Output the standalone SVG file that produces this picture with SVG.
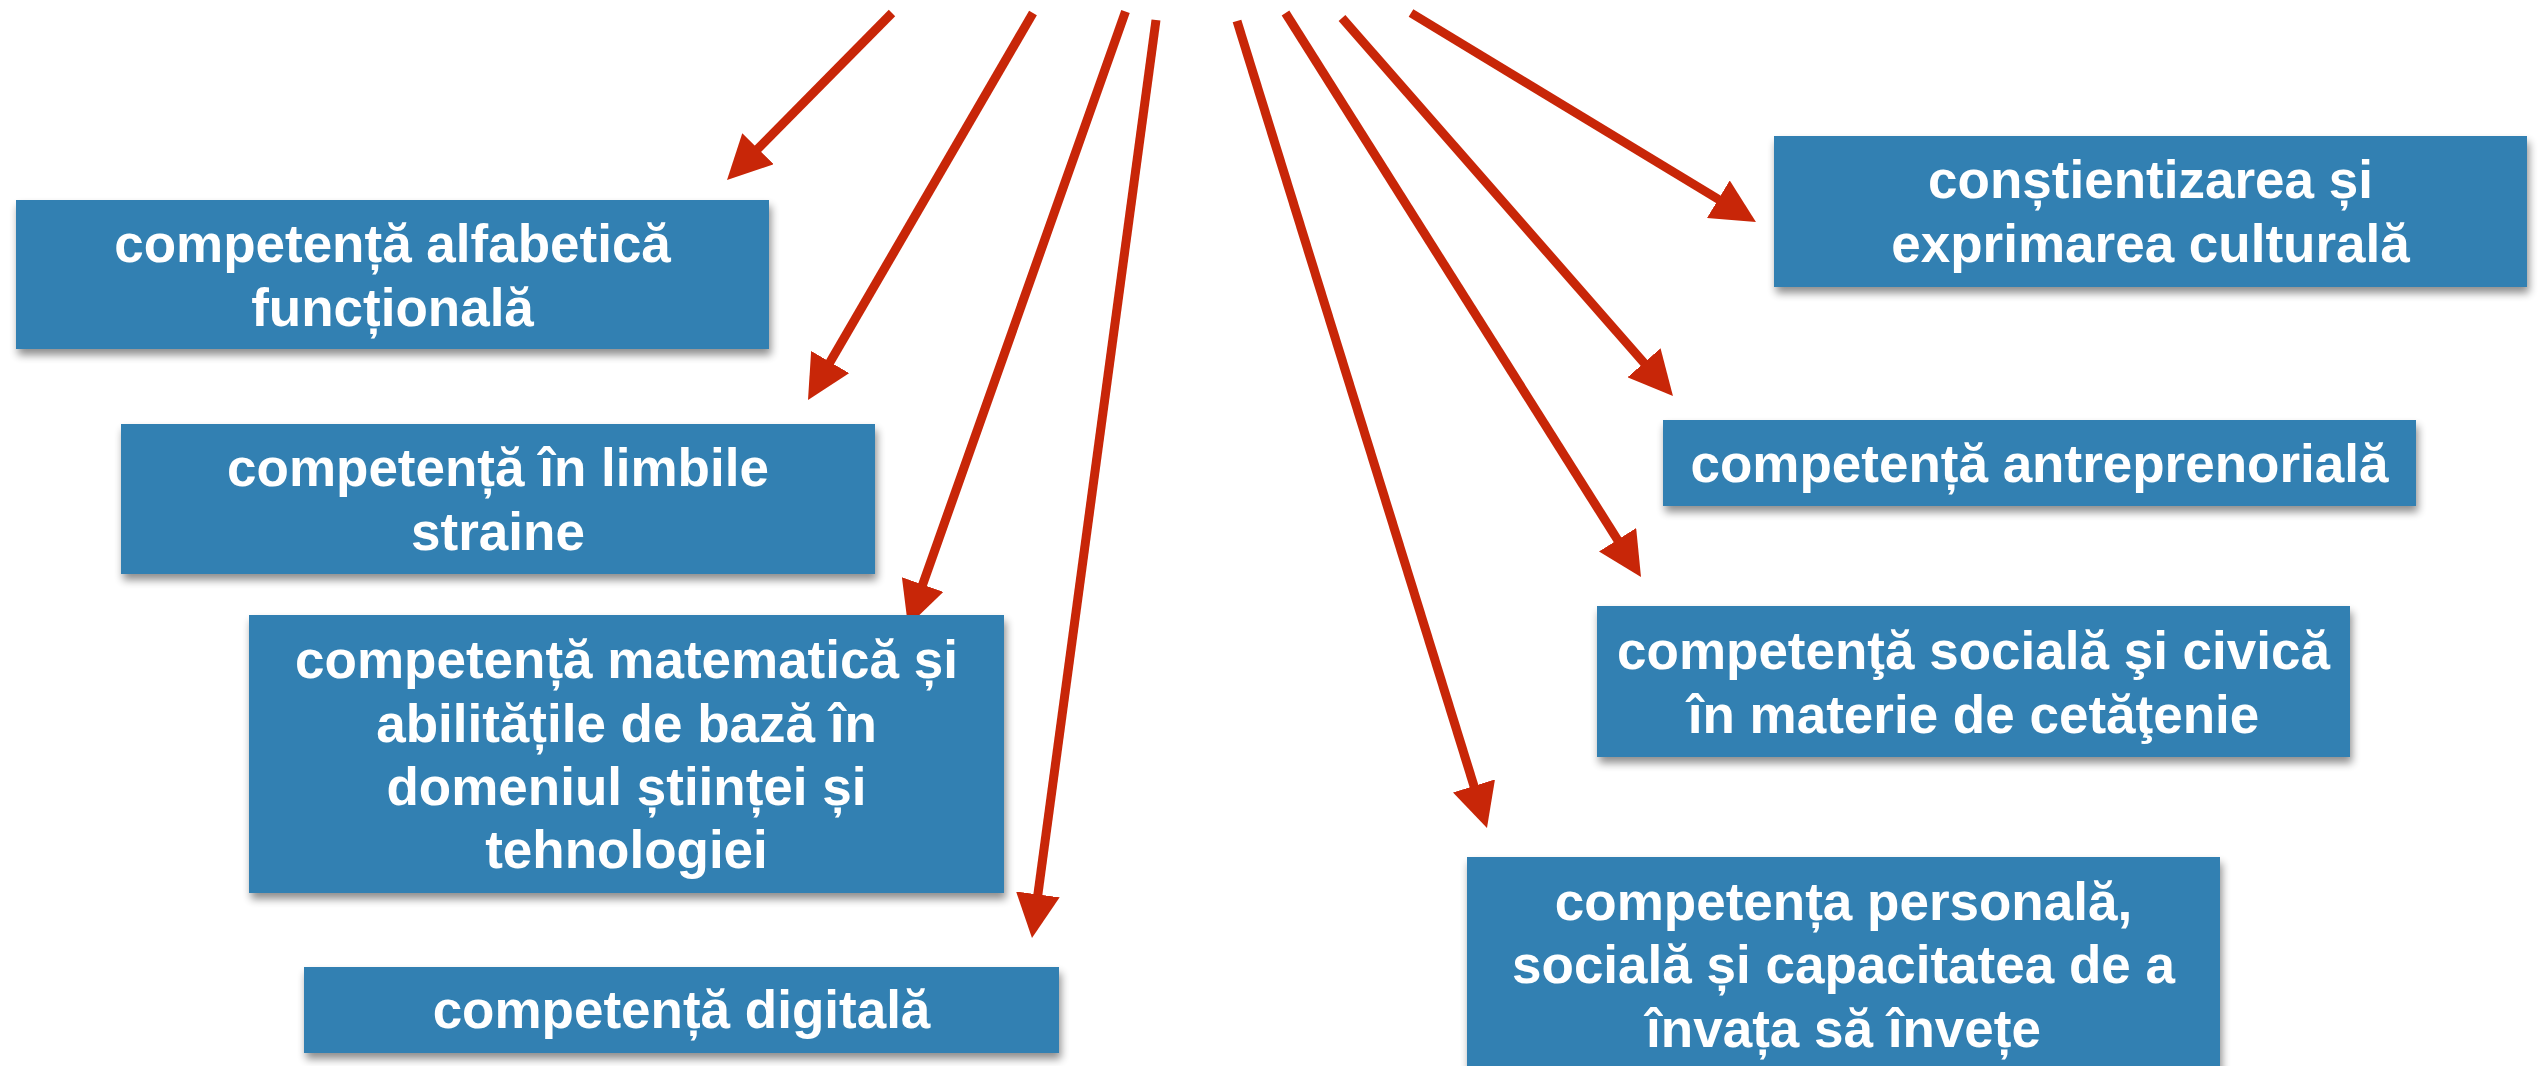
<svg xmlns="http://www.w3.org/2000/svg" width="2541" height="1066" viewBox="0 0 2541 1066">
  <defs>
    <filter id="shadow" x="-5%" y="-10%" width="110%" height="130%">
      <feGaussianBlur in="SourceAlpha" stdDeviation="4"/>
      <feOffset dx="2" dy="6" result="b"/>
      <feComponentTransfer><feFuncA type="linear" slope="0.45"/></feComponentTransfer>
      <feMerge><feMergeNode/><feMergeNode in="SourceGraphic"/></feMerge>
    </filter>
    <marker id="head" viewBox="0 0 44 44" refX="14" refY="22" markerWidth="44" markerHeight="44" markerUnits="userSpaceOnUse" orient="auto">
      <path d="M0,0 L44,22 L0,44 Z" fill="#c82608"/>
    </marker>
  </defs>
  <style>
    .box { fill: #3080b2; filter: url(#shadow); }
    .lbl { fill: #ffffff; font-family: "Liberation Sans", Arial, sans-serif; font-weight: bold; font-size: 53px; text-anchor: middle; }
    .arrow { stroke: #c82608; stroke-width: 9; fill: none; stroke-linecap: butt; marker-end: url(#head); }
  </style>
  <rect width="2541" height="1066" fill="#ffffff"/>

  <g id="connectors">
    <line class="arrow" x1="892" y1="13" x2="748.1" y2="158.7"/>
    <line class="arrow" x1="1033" y1="13" x2="823.1" y2="374.1"/>
    <line class="arrow" x1="1125.5" y1="11.5" x2="918" y2="597.7"/>
    <line class="arrow" x1="1156" y1="20" x2="1036" y2="908.3"/>
    <line class="arrow" x1="1237" y1="21" x2="1478.1" y2="799.3"/>
    <line class="arrow" x1="1285.5" y1="13" x2="1625" y2="551.6"/>
    <line class="arrow" x1="1342" y1="18" x2="1653.2" y2="373.4"/>
    <line class="arrow" x1="1411" y1="13" x2="1730.3" y2="206.5"/>
  </g>

  <g id="node-alfabetica">
    <rect class="box" x="16" y="200" width="753" height="149"/>
    <text class="lbl" x="392.5" y="262">competență alfabetică</text>
    <text class="lbl" x="392.5" y="326">funcțională</text>
  </g>
  <g id="node-limbi">
    <rect class="box" x="121" y="424" width="754" height="150"/>
    <text class="lbl" x="498" y="486">competență în limbile</text>
    <text class="lbl" x="498" y="550">straine</text>
  </g>
  <g id="node-matematica">
    <rect class="box" x="249" y="615" width="755" height="278"/>
    <text class="lbl" x="626.5" y="678">competență matematică și</text>
    <text class="lbl" x="626.5" y="742">abilitățile de bază în</text>
    <text class="lbl" x="626.5" y="805">domeniul științei și</text>
    <text class="lbl" x="626.5" y="868">tehnologiei</text>
  </g>
  <g id="node-digitala">
    <rect class="box" x="304" y="967" width="755" height="86"/>
    <text class="lbl" x="681.5" y="1028">competență digitală</text>
  </g>
  <g id="node-culturala">
    <rect class="box" x="1774" y="136" width="753" height="151"/>
    <text class="lbl" x="2150.5" y="198">conștientizarea și</text>
    <text class="lbl" x="2150.5" y="262">exprimarea culturală</text>
  </g>
  <g id="node-antreprenoriala">
    <rect class="box" x="1663" y="420" width="753" height="86"/>
    <text class="lbl" x="2039.5" y="482">competență antreprenorială</text>
  </g>
  <g id="node-sociala-civica">
    <rect class="box" x="1597" y="606" width="753" height="151"/>
    <text class="lbl" x="1973.5" y="669">competenţă socială şi civică</text>
    <text class="lbl" x="1973.5" y="733">în materie de cetăţenie</text>
  </g>
  <g id="node-personala">
    <rect class="box" x="1467" y="857" width="753" height="230"/>
    <text class="lbl" x="1843.5" y="920">competența personală,</text>
    <text class="lbl" x="1843.5" y="983">socială și capacitatea de a</text>
    <text class="lbl" x="1843.5" y="1047">învața să învețe</text>
  </g>
</svg>
